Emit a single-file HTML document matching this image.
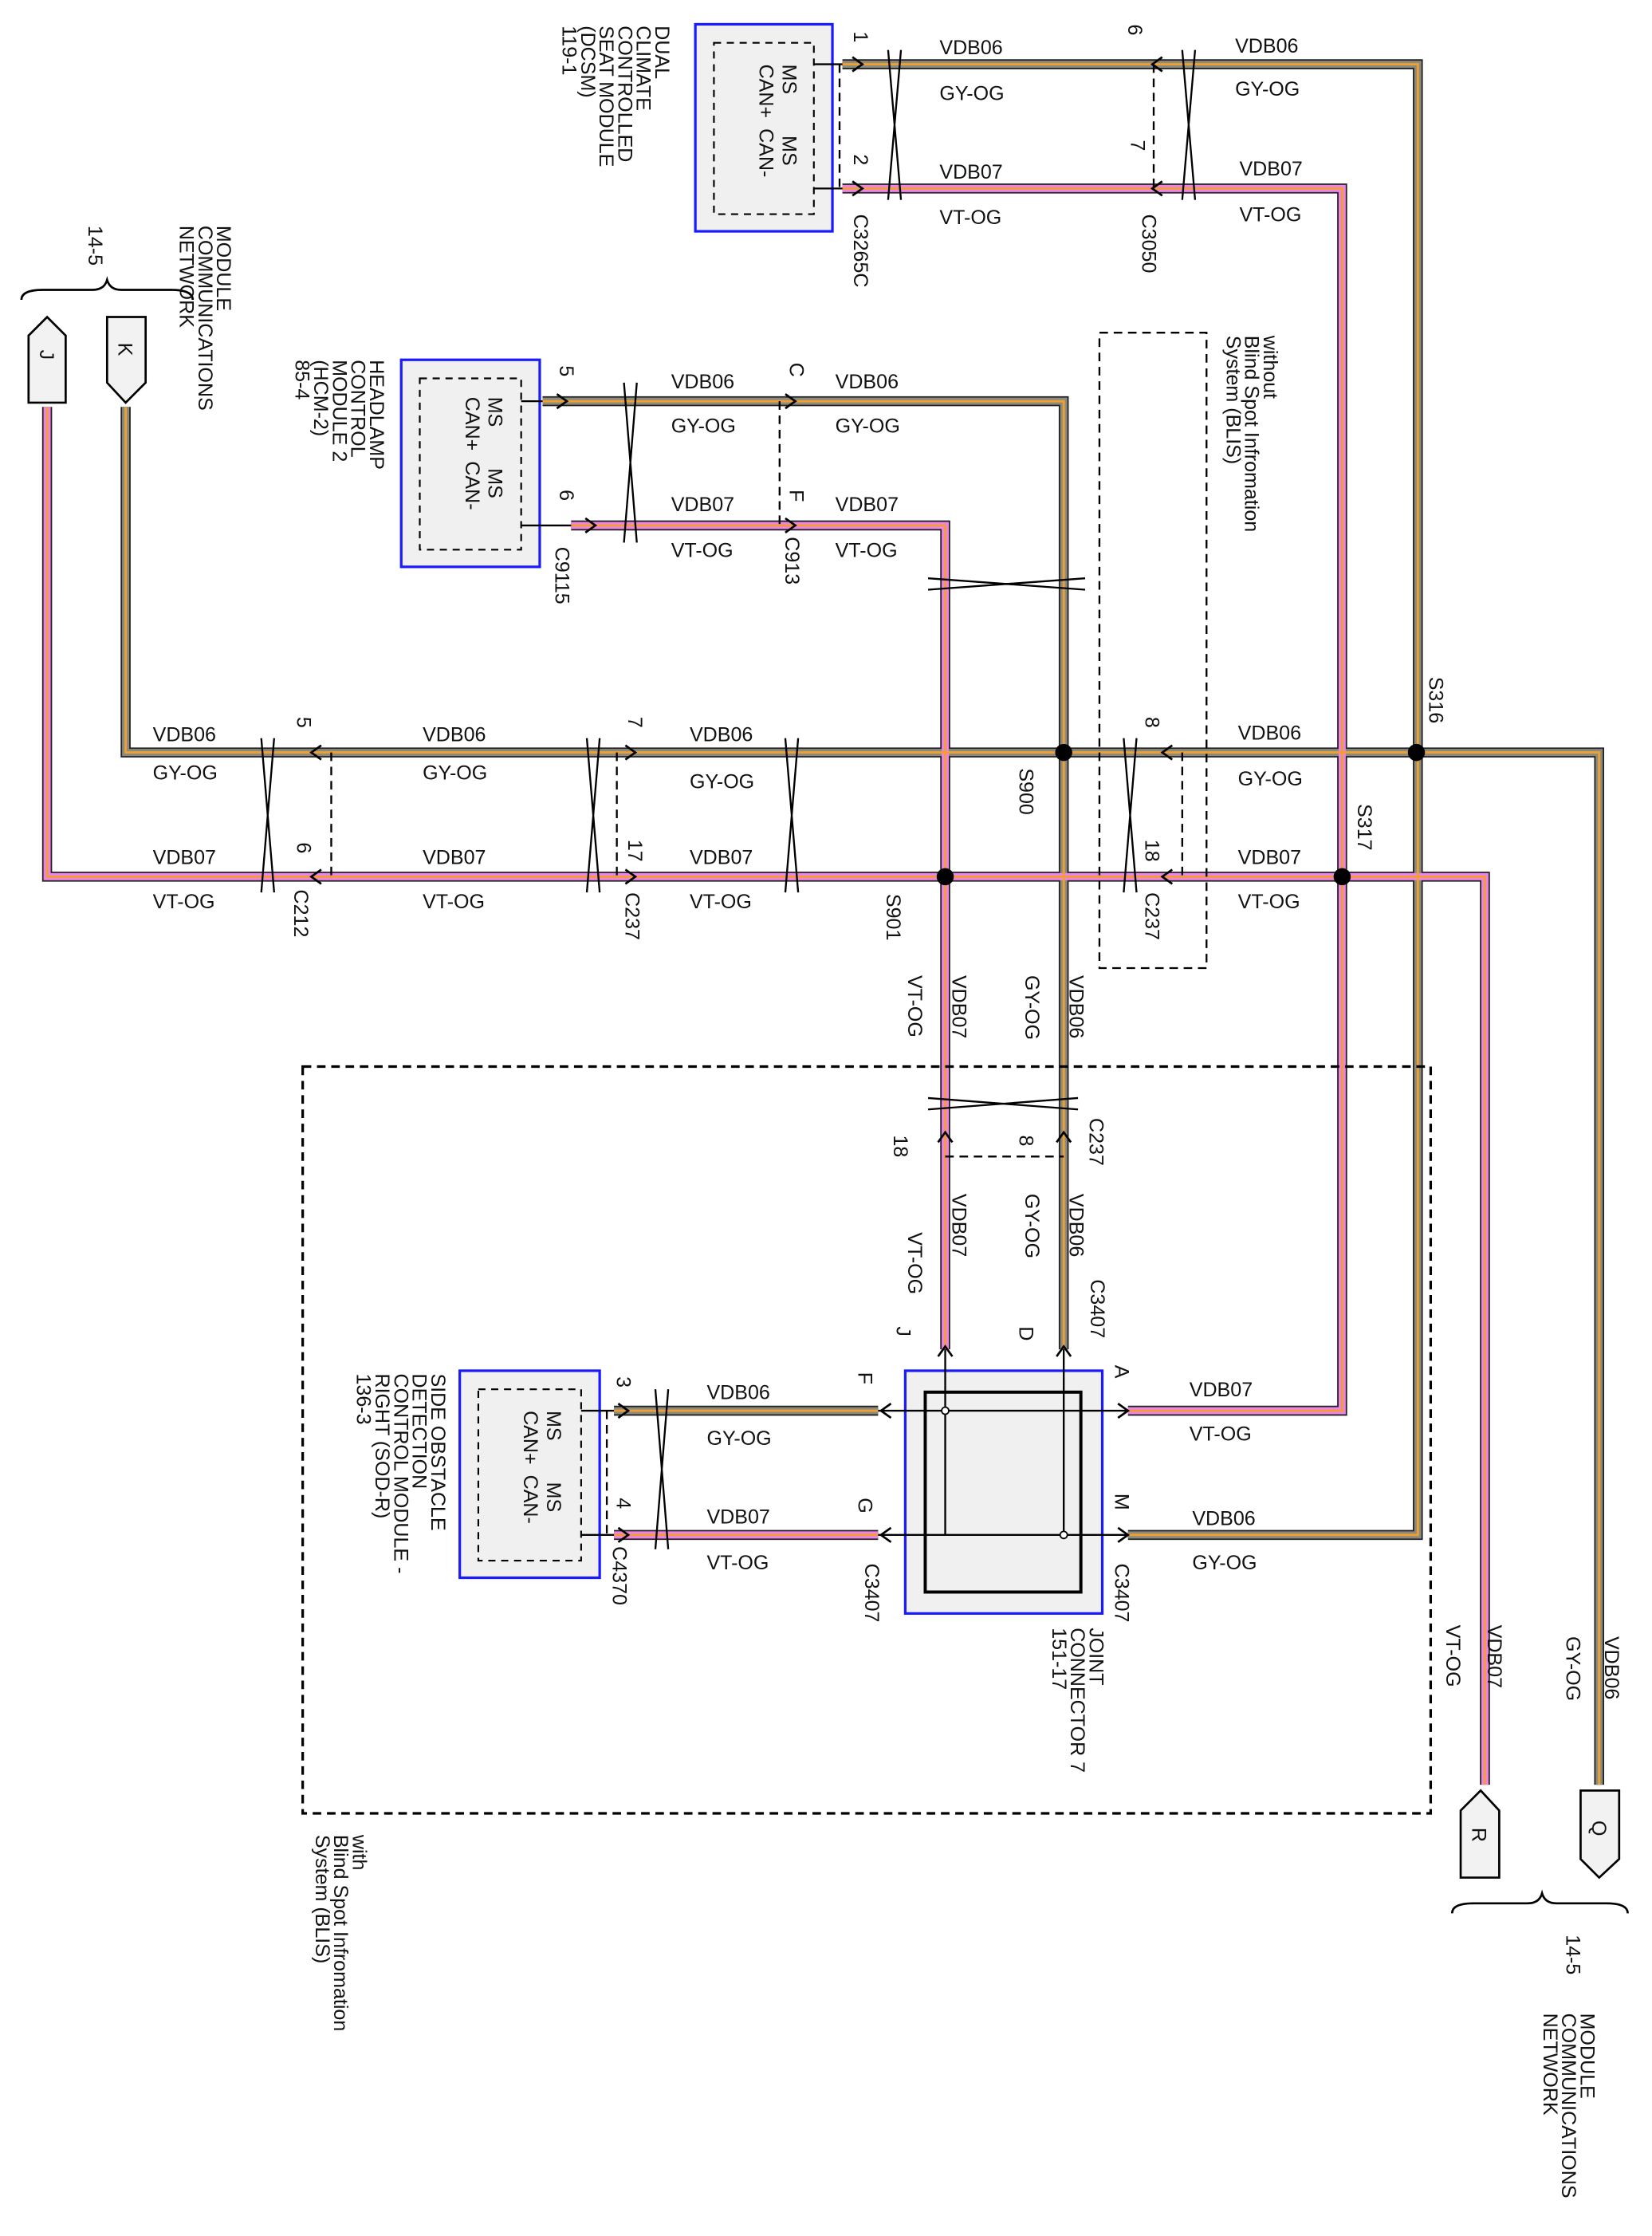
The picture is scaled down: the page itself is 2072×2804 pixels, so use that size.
<!DOCTYPE html>
<html><head><meta charset="utf-8"><style>
html,body{margin:0;padding:0;background:#fff}
svg{display:block}
text{font-family:"Liberation Sans",sans-serif;font-size:14px;fill:#111}
.s{font-size:13px}
</style></head><body>
<svg width="2072" height="2804" viewBox="0 0 1157 1566" preserveAspectRatio="none" xmlns="http://www.w3.org/2000/svg">
<defs>
<path id="g1" d="M590 45 H993 V1075 H790"/>
<path id="g2" d="M88 285 V527 H1120 V1250"/>
<path id="g3" d="M380 281 H745 V945"/>
<path id="g4" d="M430 988 H615"/>
<path id="v1" d="M590 132 H940 V988 H790"/>
<path id="v2" d="M33 285 V614 H1040 V1250"/>
<path id="v3" d="M400 368 H662 V945"/>
<path id="v4" d="M430 1075 H615"/>
</defs>
<g fill="none" stroke-linejoin="miter">
<g stroke="#222" stroke-width="7"><use href="#g1"/><use href="#g2"/><use href="#g3"/><use href="#g4"/><use href="#v1"/><use href="#v2"/><use href="#v3"/><use href="#v4"/></g>
<g stroke="#8a8a7e" stroke-width="5"><use href="#g1"/><use href="#g2"/><use href="#g3"/><use href="#g4"/></g>
<g stroke="#ee82e8" stroke-width="5"><use href="#v1"/><use href="#v2"/><use href="#v3"/><use href="#v4"/></g>
<g stroke="#f0a030" stroke-width="1.6"><use href="#g1"/><use href="#g2"/><use href="#g3"/><use href="#g4"/><use href="#v1"/><use href="#v2"/><use href="#v3"/><use href="#v4"/></g>
</g>
<!-- junction dots -->
<g fill="#000"><circle cx="745" cy="527" r="6"/><circle cx="992" cy="527" r="6"/><circle cx="662" cy="614" r="6"/><circle cx="940" cy="614" r="6"/></g>
<!-- dashed boxes -->
<g fill="none" stroke="#000" stroke-dasharray="6,4" stroke-width="1.3">
<rect x="770" y="233" width="75" height="445"/>
<rect x="212" y="747" width="790" height="523" stroke-width="1.8"/>
<path d="M588 45V132 M808 45V132 M546 281V368 M232 527V614 M432 527V614 M828 527V614 M425 988V1075 M662 810H745"/>
</g>
<!-- module boxes -->
<g stroke="#1a1aff" stroke-width="1.8" fill="#f0f0f0">
<rect x="487" y="17" width="96" height="145"/>
<rect x="281" y="252" width="97" height="145"/>
<rect x="322" y="960" width="98" height="145"/>
<rect x="634" y="960" width="138" height="170"/>
</g>
<g fill="none" stroke="#000" stroke-width="1.2" stroke-dasharray="5,4">
<rect x="500" y="30" width="70" height="120"/>
<rect x="294" y="265" width="71" height="120"/>
<rect x="335" y="973" width="72" height="120"/>
</g>
<g fill="none" stroke="#000" stroke-width="1.3">
<path d="M570 45H590 M570 132H590 M365 281H380 M365 368H400 M407 988H430 M407 1075H430"/>
<rect x="648" y="975" width="109" height="140" stroke-width="2.2"/>
<path d="M615 988H790 M615 1075H790 M662 945V1075 M745 945V1075"/>
</g>
<g fill="#fff" stroke="#000" stroke-width="1"><circle cx="662" cy="988" r="2.5"/><circle cx="745" cy="1075" r="2.5"/></g>
<!-- twist markers -->
<g stroke="#000" stroke-width="1.3" fill="#fff">
<path d="M622 35L631 140M631 35L622 140M828 35L837 140M837 35L828 140M437 268L446 380M446 268L437 380M183 517L192 625M192 517L183 625M411 517L420 625M420 517L411 625M550 517L559 625M559 517L550 625M787 517L796 625M796 517L787 625M459 973L468 1085M468 973L459 1085M650 405L760 413M650 413L760 405M650 769L755 777M650 777L755 769"/>
</g>
<!-- arrowheads -->
<g fill="none" stroke="#000" stroke-width="1.5">
<path d="M597 40L604 45L597 50 M597 127L604 132L597 137 M814 40L807 45L814 50 M814 127L807 132L814 137"/>
<path d="M390 276L397 281L390 286 M410 363L417 368L410 373 M550 276L557 281L550 286 M550 363L557 368L550 373"/>
<path d="M225 522L218 527L225 532 M225 609L218 614L225 619 M438 522L445 527L438 532 M438 609L445 614L438 619 M821 522L814 527L821 532 M821 609L814 614L821 619"/>
<path d="M657 800L662 793L667 800 M740 800L745 793L750 800 M657 950L662 943L667 950 M740 950L745 943L750 950"/>
<path d="M433 983L440 988L433 993 M433 1070L440 1075L433 1080 M624 983L617 988L624 993 M624 1070L617 1075L624 1080 M783 983L790 988L783 993 M783 1070L790 1075L783 1080"/>
</g>
<!-- connectors J K R Q -->
<g fill="#f2f2f2" stroke="#000" stroke-width="1.5">
<path d="M20 235L33 222L46 235V282H20Z"/>
<path d="M75 222H102V268L88 282L75 268Z"/>
<path d="M1023 1268L1037 1254L1050 1268V1315H1023Z"/>
<path d="M1107 1254H1134V1302L1120 1315L1107 1302Z"/>
</g>
<g fill="none" stroke="#000" stroke-width="1.5">
<path d="M15 210Q15 203 30 203H65Q73 203 75 196Q77 203 85 203H120Q135 203 135 210"/>
<path d="M1017 1340Q1017 1333 1032 1333H1070Q1078 1333 1080 1326Q1082 1333 1090 1333H1125Q1140 1333 1140 1340" transform="translate(0,0)"/>
</g>
<g class="s">
<text transform="translate(28,245) rotate(90)">J</text>
<text transform="translate(83,240) rotate(90)">K</text>
<text transform="translate(1031,1280) rotate(90)">R</text>
<text transform="translate(1115,1275) rotate(90)">Q</text>
</g>
<!-- horizontal labels -->
<g>
<text x="658" y="38">VDB06</text><text x="658" y="70">GY-OG</text><text x="658" y="125">VDB07</text><text x="658" y="157">VT-OG</text>
<text x="865" y="37">VDB06</text><text x="865" y="67">GY-OG</text><text x="868" y="123">VDB07</text><text x="868" y="155">VT-OG</text>
<text x="470" y="272">VDB06</text><text x="470" y="303">GY-OG</text><text x="585" y="272">VDB06</text><text x="585" y="303">GY-OG</text>
<text x="470" y="358">VDB07</text><text x="470" y="390">VT-OG</text><text x="585" y="358">VDB07</text><text x="585" y="390">VT-OG</text>
<text x="107" y="519">VDB06</text><text x="107" y="546">GY-OG</text><text x="296" y="519">VDB06</text><text x="296" y="546">GY-OG</text>
<text x="483" y="519">VDB06</text><text x="483" y="552">GY-OG</text><text x="867" y="518">VDB06</text><text x="867" y="550">GY-OG</text>
<text x="107" y="605">VDB07</text><text x="107" y="636">VT-OG</text><text x="296" y="605">VDB07</text><text x="296" y="636">VT-OG</text>
<text x="483" y="605">VDB07</text><text x="483" y="636">VT-OG</text><text x="867" y="605">VDB07</text><text x="867" y="636">VT-OG</text>
<text x="495" y="980">VDB06</text><text x="495" y="1012">GY-OG</text><text x="495" y="1067">VDB07</text><text x="495" y="1099">VT-OG</text>
<text x="833" y="978">VDB07</text><text x="833" y="1009">VT-OG</text><text x="835" y="1068">VDB06</text><text x="835" y="1099">GY-OG</text>
</g>
<!-- rotated labels -->
<g>
<text transform="translate(598,22) rotate(90)">1</text><text transform="translate(598,108) rotate(90)">2</text>
<text transform="translate(598,150) rotate(90)">C3265C</text>
<text transform="translate(790,17) rotate(90)">6</text><text transform="translate(792,98) rotate(90)">7</text>
<text transform="translate(800,150) rotate(90)">C3050</text>
<text transform="translate(392,256) rotate(90)">5</text><text transform="translate(392,343) rotate(90)">6</text>
<text transform="translate(389,383) rotate(90)">C9115</text>
<text transform="translate(553,254) rotate(90)">C</text><text transform="translate(553,343) rotate(90)">F</text>
<text transform="translate(550,376) rotate(90)">C913</text>
<text transform="translate(208,502) rotate(90)">5</text><text transform="translate(208,590) rotate(90)">6</text>
<text transform="translate(206,623) rotate(90)">C212</text>
<text transform="translate(440,502) rotate(90)">7</text><text transform="translate(440,588) rotate(90)">17</text>
<text transform="translate(438,625) rotate(90)">C237</text>
<text transform="translate(802,502) rotate(90)">8</text><text transform="translate(802,588) rotate(90)">18</text>
<text transform="translate(802,625) rotate(90)">C237</text>
<text transform="translate(714,538) rotate(90)">S900</text>
<text transform="translate(621,626) rotate(90)">S901</text>
<text transform="translate(1001,474) rotate(90)">S316</text>
<text transform="translate(951,563) rotate(90)">S317</text>
<text transform="translate(749,683) rotate(90)">VDB06</text><text transform="translate(718,683) rotate(90)">GY-OG</text>
<text transform="translate(667,683) rotate(90)">VDB07</text><text transform="translate(636,683) rotate(90)">VT-OG</text>
<text transform="translate(763,783) rotate(90)">C237</text>
<text transform="translate(714,795) rotate(90)">8</text><text transform="translate(626,795) rotate(90)">18</text>
<text transform="translate(749,836) rotate(90)">VDB06</text><text transform="translate(718,836) rotate(90)">GY-OG</text>
<text transform="translate(667,836) rotate(90)">VDB07</text><text transform="translate(636,863) rotate(90)">VT-OG</text>
<text transform="translate(764,896) rotate(90)">C3407</text>
<text transform="translate(714,929) rotate(90)">D</text><text transform="translate(628,929) rotate(90)">J</text>
<text transform="translate(781,956) rotate(90)">A</text><text transform="translate(781,1046) rotate(90)">M</text>
<text transform="translate(781,1095) rotate(90)">C3407</text>
<text transform="translate(601,961) rotate(90)">F</text><text transform="translate(601,1049) rotate(90)">G</text>
<text transform="translate(606,1095) rotate(90)">C3407</text>
<text transform="translate(432,964) rotate(90)">3</text><text transform="translate(432,1049) rotate(90)">4</text>
<text transform="translate(429,1083) rotate(90)">C4370</text>
<text transform="translate(1124,1146) rotate(90)">VDB06</text><text transform="translate(1097,1146) rotate(90)">GY-OG</text>
<text transform="translate(1042,1138) rotate(90)">VDB07</text><text transform="translate(1013,1138) rotate(90)">VT-OG</text>
</g>
<!-- module text -->
<g class="s">
<text transform="translate(459,18) rotate(90)"><tspan x="0" dy="0">DUAL</tspan><tspan x="0" dy="13">CLIMATE</tspan><tspan x="0" dy="13">CONTROLLED</tspan><tspan x="0" dy="13">SEAT MODULE</tspan><tspan x="0" dy="13">(DCSM)</tspan><tspan x="0" dy="13">119-1</tspan></text>
<text transform="translate(548,45) rotate(90)"><tspan x="0">MS</tspan><tspan x="50">MS</tspan><tspan x="0" dy="16">CAN+</tspan><tspan x="45">CAN-</tspan></text>
<text transform="translate(342,278) rotate(90)"><tspan x="0">MS</tspan><tspan x="50">MS</tspan><tspan x="0" dy="16">CAN+</tspan><tspan x="45">CAN-</tspan></text>
<text transform="translate(383,988) rotate(90)"><tspan x="0">MS</tspan><tspan x="50">MS</tspan><tspan x="0" dy="16">CAN+</tspan><tspan x="45">CAN-</tspan></text>
<text transform="translate(152,158) rotate(90)"><tspan x="0">MODULE</tspan><tspan x="0" dy="13">COMMUNICATIONS</tspan><tspan x="0" dy="13">NETWORK</tspan></text>
<text transform="translate(62,158) rotate(90)">14-5</text>
<text transform="translate(259,252) rotate(90)"><tspan x="0">HEADLAMP</tspan><tspan x="0" dy="13">CONTROL</tspan><tspan x="0" dy="13">MODULE 2</tspan><tspan x="0" dy="13">(HCM-2)</tspan><tspan x="0" dy="13">85-4</tspan></text>
<text transform="translate(885,235) rotate(90)"><tspan x="0">without</tspan><tspan x="0" dy="13">Blind Spot Infromation</tspan><tspan x="0" dy="13">System (BLIS)</tspan></text>
<text transform="translate(302,962) rotate(90)"><tspan x="0">SIDE OBSTACLE</tspan><tspan x="0" dy="13">DETECTION</tspan><tspan x="0" dy="13">CONTROL MODULE -</tspan><tspan x="0" dy="13">RIGHT (SOD-R)</tspan><tspan x="0" dy="13">136-3</tspan></text>
<text transform="translate(763,1140) rotate(90)"><tspan x="0">JOINT</tspan><tspan x="0" dy="13">CONNECTOR 7</tspan><tspan x="0" dy="13">151-17</tspan></text>
<text transform="translate(247,1285) rotate(90)"><tspan x="0">with</tspan><tspan x="0" dy="13">Blind Spot Infromation</tspan><tspan x="0" dy="13">System (BLIS)</tspan></text>
<text transform="translate(1107,1410) rotate(90)"><tspan x="0">MODULE</tspan><tspan x="0" dy="13">COMMUNICATIONS</tspan><tspan x="0" dy="13">NETWORK</tspan></text>
<text transform="translate(1097,1355) rotate(90)">14-5</text>
</g>
</svg>
</body></html>
